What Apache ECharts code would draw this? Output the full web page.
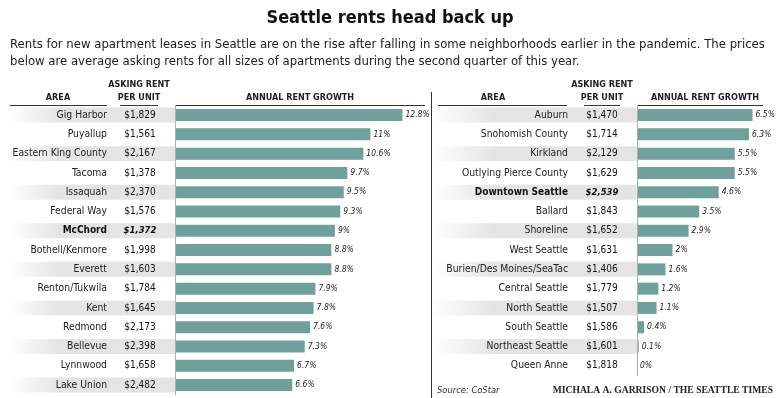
<!DOCTYPE html>
<html>
<head>
<meta charset="utf-8">
<script src="https://cdn.jsdelivr.net/npm/echarts@6/dist/echarts.min.js"></script>
<style>
html, body { margin: 0; padding: 0; background: #fff; }
#chart { width: 780px; height: 398px; }
</style>
</head>
<body>
<div id="chart"></div>
<script>
// left table
const leftAreas = ["Gig Harbor", "Puyallup", "Eastern King County", "Tacoma", "Issaquah", "Federal Way", "McChord",
    "Bothell/Kenmore", "Everett", "Renton/Tukwila", "Kent", "Redmond", "Bellevue", "Lynnwood", "Lake Union"];
const leftRents = ["$1,829", "$1,561", "$2,167", "$1,378", "$2,370", "$1,576", "$1,372",
    "$1,998", "$1,603", "$1,784", "$1,645", "$2,173", "$2,398", "$1,658", "$2,482"];
const leftGrowth = [12.8, 11, 10.6, 9.7, 9.5, 9.3, 9, 8.8, 8.8, 7.9, 7.8, 7.6, 7.3, 6.7, 6.6];

// right table
const rightAreas = ["Auburn", "Snohomish County", "Kirkland", "Outlying Pierce County", "Downtown Seattle", "Ballard",
    "Shoreline", "West Seattle", "Burien/Des Moines/SeaTac", "Central Seattle", "North Seattle", "South Seattle",
    "Northeast Seattle", "Queen Anne"];
const rightRents = ["$1,470", "$1,714", "$2,129", "$1,629", "$2,539", "$1,843", "$1,652", "$1,631", "$1,406",
    "$1,779", "$1,507", "$1,586", "$1,601", "$1,818"];
const rightGrowth = [6.5, 6.3, 5.5, 5.5, 4.6, 3.5, 2.9, 2, 1.6, 1.2, 1.1, 0.4, 0.1, 0];

const boldAreas = ["McChord", "Downtown Seattle"];

const narrow = '"DejaVu Sans Condensed", "Liberation Sans Narrow", sans-serif';
const barColor = "#70a09c";
const textColor = "#222";

const chart = echarts.init(document.getElementById("chart"));

function nameAxis(grid, areas, margin) {
    return {
        type: "category", gridIndex: grid, data: areas, inverse: true, z: 5,
        axisLine: { show: true, lineStyle: { color: "#a7b3b2", width: 1 } },
        axisTick: { show: false },
        axisLabel: {
            margin: margin, fontSize: 10.3, color: textColor, fontFamily: narrow,
            formatter: v => boldAreas.includes(v) ? "{b|" + v + "}" : v,
            rich: { b: { fontWeight: "bold", fontSize: 10, fontFamily: narrow, color: "#111" } }
        }
    };
}

function rentAxis(grid, areas, rents, margin) {
    return {
        type: "category", gridIndex: grid, data: rents, inverse: true, z: 5, position: "left",
        axisLine: { show: false }, axisTick: { show: false },
        axisLabel: {
            margin: margin, align: "center", fontSize: 10, color: "#111", fontFamily: narrow,
            formatter: (v, i) => boldAreas.includes(areas[i]) ? "{b|" + v + "}" : v,
            rich: { b: { fontWeight: "bold", fontStyle: "italic", fontSize: 9.5, fontFamily: narrow, color: "#111" } }
        }
    };
}

function bandSeries(grid, yIdx, areas, fromX) {
    return {
        type: "custom", xAxisIndex: grid, yAxisIndex: yIdx, z: 1, silent: true,
        data: areas.map((a, i) => [0, i]),
        renderItem(params, api) {
            const i = api.value(1);
            if (i % 2) return;
            const p = api.coord([0, i]);
            return {
                type: "rect",
                shape: { x: fromX, y: p[1] - 7.5, width: p[0] - fromX, height: 15 },
                style: {
                    fill: new echarts.graphic.LinearGradient(0, 0, 1, 0, [
                        { offset: 0, color: "rgba(228,228,228,0)" },
                        { offset: 0.3, color: "#e4e4e4" },
                        { offset: 1, color: "#e4e4e4" }
                    ])
                }
            };
        }
    };
}

function barSeries(grid, yIdx, values) {
    return {
        type: "bar", xAxisIndex: grid, yAxisIndex: yIdx, z: 3, data: values,
        barWidth: 12, itemStyle: { color: barColor },
        label: {
            show: true, position: "right", distance: 3, formatter: "{c}%",
            fontSize: 8.5, fontStyle: "italic", color: "#222", fontFamily: narrow
        }
    };
}

const hText = (x, y, t, size, extra) => Object.assign({
    type: "text", x: x, y: y,
    style: Object.assign({ text: t, fontSize: size || 9, fontWeight: "bold", fontFamily: narrow, fill: textColor,
        align: "center", verticalAlign: "middle" }, extra || {})
});
const hLine = (x1, y1, x2, y2) => ({
    type: "line", shape: { x1: x1, y1: y1, x2: x2, y2: y2 }, style: { stroke: "#333", lineWidth: 1 }
});

const option = {
    animation: false,
    backgroundColor: "#fff",
    grid: [
        { left: 175, top: 105.4, width: 14 * 17.77, height: 15 * 19.29 },
        { left: 637, top: 105.4, width: 8 * 17.77, height: 14 * 19.29 }
    ],
    xAxis: [
        { type: "value", gridIndex: 0, min: 0, max: 14, show: false },
        { type: "value", gridIndex: 1, min: 0, max: 8, show: false }
    ],
    yAxis: [
        nameAxis(0, leftAreas, 68),
        rentAxis(0, leftAreas, leftRents, 35),
        nameAxis(1, rightAreas, 69),
        rentAxis(1, rightAreas, rightRents, 35)
    ],
    series: [
        bandSeries(0, 0, leftAreas, 10),
        bandSeries(1, 2, rightAreas, 433),
        barSeries(0, 0, leftGrowth),
        barSeries(1, 2, rightGrowth)
    ],
    graphic: [
        hText(390, 18, "Seattle rents head back up", 18, { fill: "#111" }),
        hText(10, 45, "Rents for new apartment leases in Seattle are on the rise after falling in some neighborhoods earlier in the pandemic. The prices", 13, { fontWeight: "normal", align: "left" }),
        hText(10, 62, "below are average asking rents for all sizes of apartments during the second quarter of this year.", 13, { fontWeight: "normal", align: "left" }),

        hText(58, 98, "AREA"),
        hText(139, 85, "ASKING RENT"),
        hText(139, 98, "PER UNIT"),
        hText(300, 98, "ANNUAL RENT GROWTH"),
        hText(493, 98, "AREA"),
        hText(602, 85, "ASKING RENT"),
        hText(602, 98, "PER UNIT"),
        hText(705, 98, "ANNUAL RENT GROWTH"),

        hLine(10, 105.5, 107, 105.5),
        hLine(120, 105.5, 158, 105.5),
        hLine(175, 105.5, 425, 105.5),
        hLine(431.5, 92, 431.5, 398),
        hLine(438, 105.5, 567, 105.5),
        hLine(584, 105.5, 620, 105.5),
        hLine(637, 105.5, 763, 105.5),

        hText(437, 391, "Source: CoStar", 9.3, { fontWeight: "normal", fontStyle: "italic", align: "left", fill: "#333" }),
        hText(773, 391, "MICHALA A. GARRISON / THE SEATTLE TIMES", 9.6, {
            fontFamily: '"Liberation Serif", "DejaVu Serif", serif', align: "right", fill: "#222" })
    ]
};

chart.setOption(option);
window.addEventListener("resize", () => chart.resize());
</script>
</body>
</html>
